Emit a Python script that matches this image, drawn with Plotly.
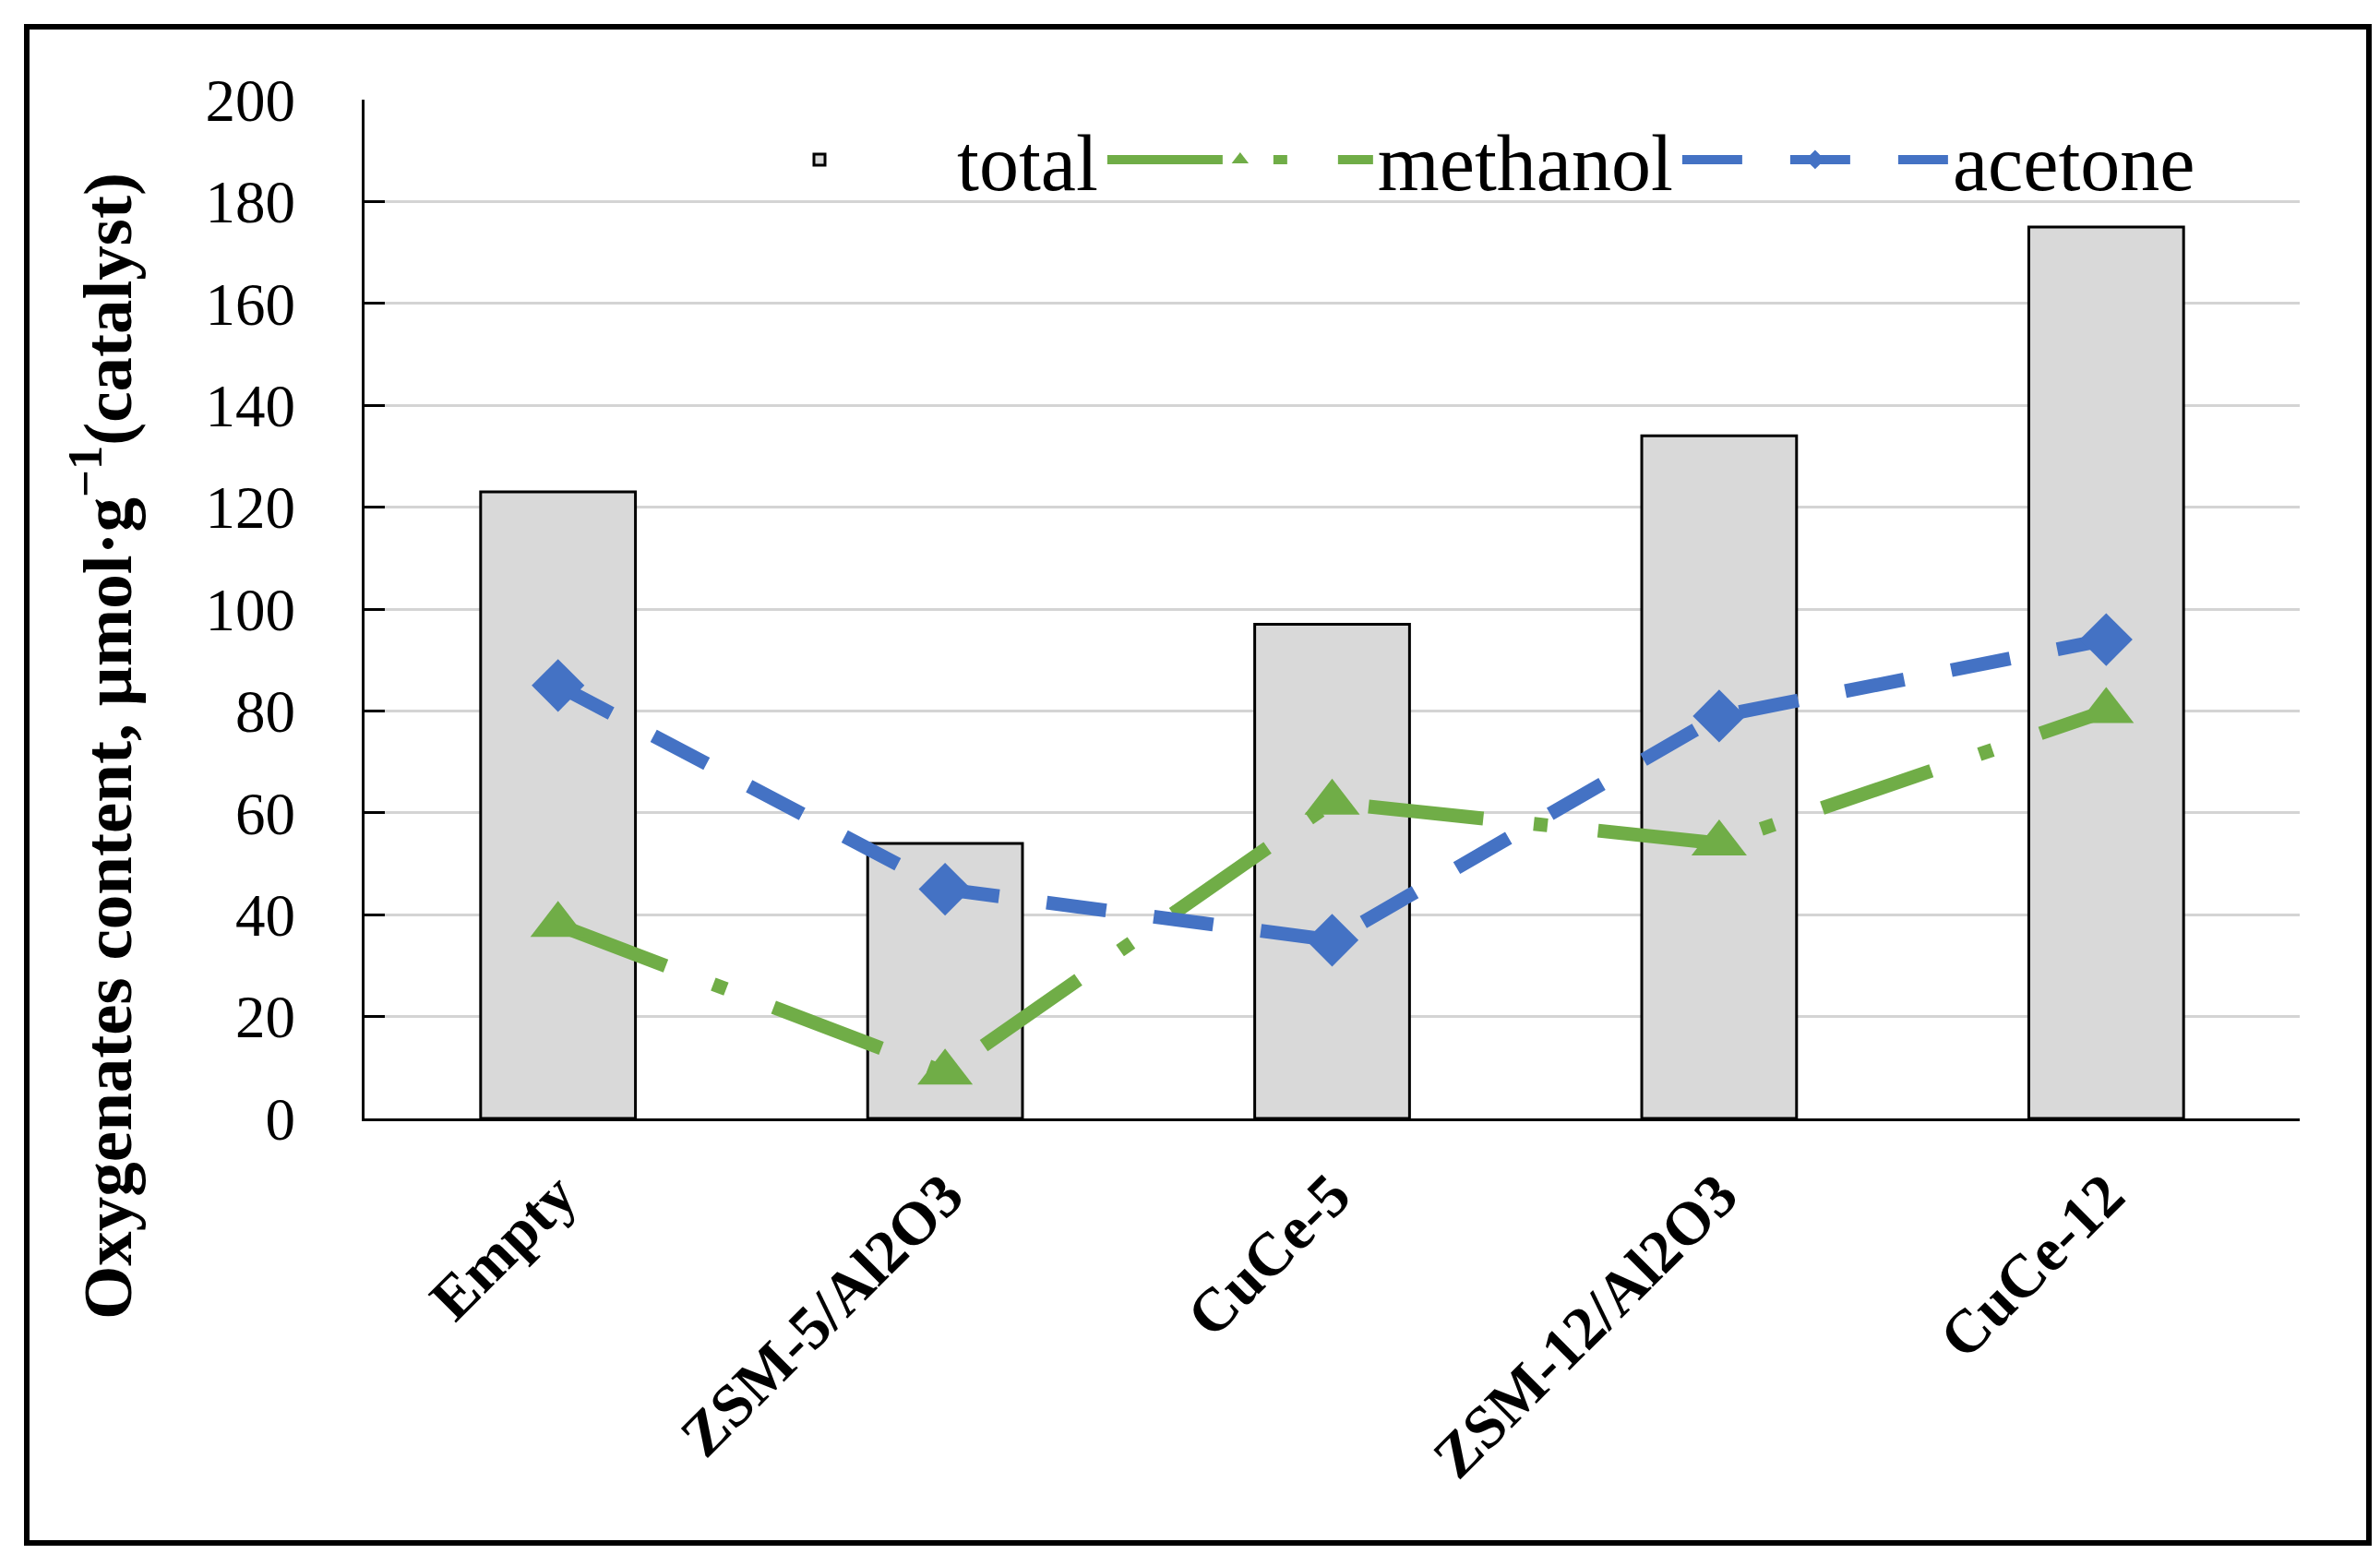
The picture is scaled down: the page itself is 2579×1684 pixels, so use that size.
import plotly.graph_objects as go

categories = ["Empty", "ZSM-5/Al2O3", "CuCe-5", "ZSM-12/Al2O3", "CuCe-12"]
total = [123, 54, 97, 134, 175]
methanol = [38, 9, 62, 54, 80]
acetone = [85, 45, 35, 79, 94]
y_ticks = [0, 20, 40, 60, 80, 100, 120, 140, 160, 180, 200]

W, H = 2579, 1684
L, R, T, B = 387, 95, 100, 480
pw, ph = W - L - R, H - T - B

def px(x):
    return (x - L) / pw

def py(y):
    return (H - B - y) / ph

serif = "Liberation Serif, Times New Roman, serif"

fig = go.Figure()
fig.add_trace(go.Bar(
    x=categories, y=total, name="total",
    marker=dict(color="#D9D9D9", line=dict(color="black", width=3)),
))
fig.add_trace(go.Scatter(
    x=categories, y=methanol, name="methanol", mode="lines+markers",
    line=dict(color="#70AD47", width=15, dash="125px,55px,15px,55px"),
    marker=dict(symbol="triangle-up", size=52, color="#70AD47"),
))
fig.add_trace(go.Scatter(
    x=categories, y=acetone, name="acetone", mode="lines+markers",
    line=dict(color="#4472C4", width=15, dash="65px,52px"),
    marker=dict(symbol="diamond", size=44, color="#4472C4"),
))

fig.update_layout(
    width=W, height=H,
    margin=dict(l=L, r=R, t=T, b=B),
    paper_bgcolor="white", plot_bgcolor="white",
    bargap=0.6,
    font=dict(family=serif, color="black"),
    showlegend=True,
    legend=dict(
        orientation="h", x=px(731), y=py(165), xanchor="left", yanchor="middle",
        font=dict(size=86, family=serif, color="black"),
        bgcolor="rgba(0,0,0,0)", itemwidth=288, traceorder="normal",
    ),
    xaxis=dict(
        showline=True, linecolor="black", linewidth=3,
        tickangle=-45, ticks="",
        tickfont=dict(size=66, family=serif, color="black", weight="bold"),
        ticklabelstandoff=15,
    ),
    yaxis=dict(
        range=[0, 200], tickvals=y_ticks,
        ticks="inside", ticklen=22, tickwidth=3, tickcolor="black",
        showline=True, linecolor="black", linewidth=3,
        showgrid=True, gridcolor="#D4D4D4", gridwidth=3,
        zeroline=False,
        tickfont=dict(size=65, family=serif, color="black"),
        ticklabelstandoff=59,
    ),
    shapes=[dict(
        type="rect", xref="paper", yref="paper",
        x0=px(21), x1=px(2559), y0=py(1664), y1=py(21),
        line=dict(color="black", width=6), fillcolor="rgba(0,0,0,0)",
        layer="below",
    )],
    annotations=[dict(
        text="Oxygenates content, µmol·g<sup>−1</sup>(catalyst)",
        xref="paper", yref="paper", x=px(102), y=py(801),
        xanchor="center", yanchor="middle", textangle=-90, showarrow=False,
        font=dict(size=75, family=serif, color="black", weight="bold"),
    )],
)

fig.write_html("out.html")
